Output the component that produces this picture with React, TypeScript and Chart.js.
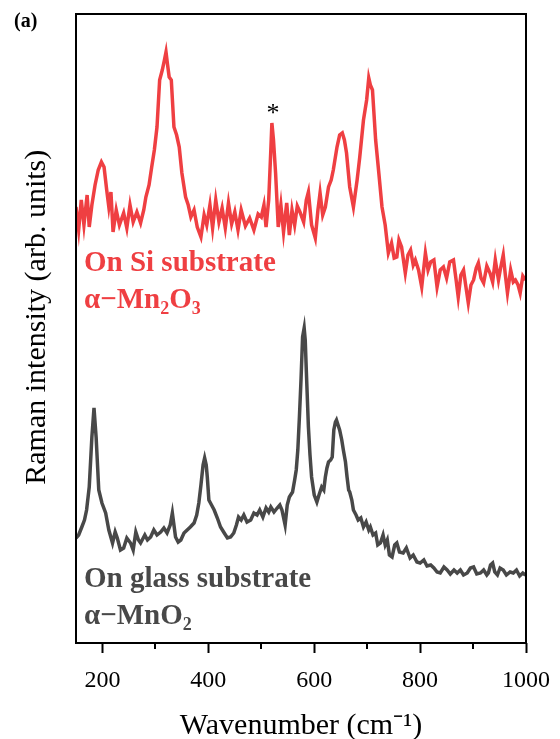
import React, { useEffect, useRef } from "react";
import { Chart, registerables } from "chart.js";

Chart.register(...registerables);

// α-Mn2O3 on Si substrate (red)
const siWavenumber = [150,155,160,165,171,175,180,186,192,198,203,208,212,216,220,226,232,240,246,252,258,265,272,278,282,288,293,298,303,308,313,317,320,323,326,330,335,340,345,350,357,362,367,373,379,386,392,397,403,408,414,420,426,432,438,444,450,456,462,470,478,486,494,500,505,509,514,518,520,523,527,532,537,542,548,553,558,563,568,573,580,585,589,595,602,607,611,616,621,627,632,636,643,648,653,657,661,667,674,681,686,693,699,703,706,710,716,722,728,734,740,746,751,756,760,765,772,777,782,787,791,797,803,810,815,820,826,832,838,844,850,856,863,868,872,877,882,886,891,896,901,906,910,915,920,926,932,937,942,948,952,957,961,965,971,976,980,985,989,994,999];
const siIntensity = [436,413,443,418,448,416,438,458,473,481,476,453,436,451,411,433,418,430,415,438,421,431,420,433,446,458,476,493,516,563,573,583,591,578,566,563,516,508,496,470,446,438,426,433,416,406,428,418,438,415,443,421,435,415,440,419,431,413,433,417,425,413,429,426,438,416,443,493,520,503,470,416,438,411,440,408,433,418,437,431,421,443,451,418,405,433,450,428,436,456,463,473,496,508,510,503,490,456,436,463,486,523,543,565,558,553,503,470,436,418,390,400,385,386,403,396,370,388,393,378,383,373,356,390,373,381,383,356,373,376,365,381,383,363,346,368,373,358,340,358,363,375,380,365,360,377,370,361,383,363,375,388,368,350,373,361,363,358,350,367,363];

// α-MnO2 on glass substrate (dark grey)
const glassWavenumber = [150,155,161,166,170,175,180,184,188,193,199,206,212,219,224,228,234,240,246,253,258,263,268,272,280,285,291,297,303,310,316,322,328,332,335,338,343,348,354,360,366,373,378,382,386,390,393,396,398,401,406,411,417,423,430,436,442,448,453,457,462,467,473,480,486,492,497,503,509,514,518,524,530,535,539,545,549,553,559,563,566,569,572,575,578,581,583,585,589,592,595,600,605,609,614,618,621,624,627,631,634,637,640,642,645,648,652,655,659,662,665,667,671,674,679,683,688,693,698,703,706,711,716,720,725,730,734,738,742,747,752,756,761,768,774,781,787,794,800,807,813,820,826,832,838,845,851,857,864,870,876,882,889,895,901,907,914,920,926,929,933,937,941,946,951,957,963,970,976,982,988,994,999];
const glassIntensity = [105,108,116,123,133,156,206,235,206,153,140,130,113,100,111,105,93,95,105,100,93,111,103,100,108,103,106,113,108,111,115,110,118,130,118,106,101,103,110,113,116,120,128,140,158,178,185,178,166,143,138,133,125,116,110,105,106,110,118,126,123,128,121,123,130,128,133,126,135,131,136,131,135,138,133,118,138,146,151,163,173,193,226,263,306,315,303,273,216,188,166,148,141,148,156,153,166,175,181,183,186,213,221,223,218,213,203,193,181,166,153,151,143,133,128,123,125,116,121,113,116,108,110,98,100,108,98,103,88,86,98,100,91,90,95,85,88,81,80,83,77,78,75,71,70,76,73,69,73,70,73,68,70,75,76,69,70,73,68,70,78,80,71,68,75,73,68,71,70,73,67,70,68];

const xTicks = [200, 400, 600, 800, 1000];
const xMinorTicks = [300, 500, 700, 900];

const RED = "#EF3F42";
const GREY = "#484848";
const SERIF = "'Liberation Serif', 'Times New Roman', serif";

export default function App() {
  const ref = useRef<HTMLCanvasElement | null>(null);

  useEffect(() => {
    if (!ref.current) return;

    const framePlugin = {
      id: "frameAndLabels",
      afterDraw(chart: any) {
        const { ctx, chartArea } = chart;
        const xs = chart.scales.x;
        const ys = chart.scales.y;
        ctx.save();
        ctx.strokeStyle = "#000";
        ctx.lineWidth = 2;
        ctx.strokeRect(chartArea.left, chartArea.top, chartArea.right - chartArea.left, chartArea.bottom - chartArea.top);
        xMinorTicks.forEach((v) => {
          const px = Math.round(xs.getPixelForValue(v));
          ctx.beginPath();
          ctx.moveTo(px, chartArea.bottom);
          ctx.lineTo(px, chartArea.bottom + 6);
          ctx.stroke();
        });

        ctx.fillStyle = "#000";
        ctx.textBaseline = "alphabetic";
        ctx.textAlign = "left";
        ctx.font = `bold 20px ${SERIF}`;
        ctx.fillText("(a)", 14, 27);

        ctx.font = `26px ${SERIF}`;
        ctx.textAlign = "center";
        ctx.fillText("*", xs.getPixelForValue(522), ys.getPixelForValue(520) - 2);

        const drawFormula = (parts: [string, boolean][], x: number, y: number, size: number) => {
          let cx = x;
          parts.forEach(([t, sub]) => {
            ctx.font = sub ? `bold ${Math.round(size * 0.62)}px ${SERIF}` : `bold ${size}px ${SERIF}`;
            ctx.fillText(t, cx, sub ? y + size * 0.22 : y);
            cx += ctx.measureText(t).width;
          });
        };

        ctx.textAlign = "left";
        const size = 29;
        ctx.fillStyle = RED;
        ctx.font = `bold ${size}px ${SERIF}`;
        ctx.fillText("On Si substrate", 84, 271);
        drawFormula([["α−Mn", false], ["2", true], ["O", false], ["3", true]], 84, 308, size);

        ctx.fillStyle = GREY;
        ctx.font = `bold ${size}px ${SERIF}`;
        ctx.fillText("On glass substrate", 84, 587);
        drawFormula([["α−MnO", false], ["2", true]], 84, 624, size);
        ctx.restore();
      },
    };

    const chart = new Chart(ref.current, {
      type: "line",
      data: {
        datasets: [
          {
            label: "On Si substrate α-Mn2O3",
            data: siWavenumber.map((x, i) => ({ x, y: siIntensity[i] })),
            borderColor: RED,
            borderWidth: 3.5,
            pointRadius: 0,
            tension: 0,
          },
          {
            label: "On glass substrate α-MnO2",
            data: glassWavenumber.map((x, i) => ({ x, y: glassIntensity[i] })),
            borderColor: GREY,
            borderWidth: 3.5,
            pointRadius: 0,
            tension: 0,
          },
        ],
      },
      options: {
        responsive: true,
        maintainAspectRatio: false,
        animation: false,
        layout: { padding: { top: 14, right: 34, left: 0, bottom: 0 } },
        plugins: { legend: { display: false }, tooltip: { enabled: false } },
        scales: {
          x: {
            type: "linear",
            min: 150,
            max: 1000,
            afterBuildTicks: (scale: any) => {
              scale.ticks = xTicks.map((v) => ({ value: v }));
            },
            afterFit: (scale: any) => {
              scale.height = 96;
              scale.paddingLeft = 0;
              scale.paddingRight = 0;
            },
            border: { display: false },
            grid: {
              display: true,
              drawOnChartArea: false,
              drawTicks: true,
              tickLength: 10,
              tickWidth: 2,
              tickColor: "#000",
            },
            ticks: {
              color: "#000",
              font: { family: SERIF, size: 24 },
              padding: 13,
              maxRotation: 0,
              callback: (v: any) => String(v),
            },
            title: {
              display: true,
              text: "Wavenumber (cm⁻¹)",
              color: "#000",
              font: { family: SERIF, size: 30, lineHeight: 1 },
              padding: { top: 0, bottom: -2 },
            },
          },
          y: {
            type: "linear",
            min: 0,
            max: 629,
            afterFit: (scale: any) => {
              scale.width = 76;
            },
            border: { display: false },
            grid: { display: false },
            ticks: { display: false },
            title: {
              display: true,
              text: "   Raman intensity (arb. units)",
              color: "#000",
              font: { family: SERIF, size: 30, lineHeight: 1.2 },
              padding: { top: 19, bottom: 0 },
            },
          },
        },
      },
      plugins: [framePlugin],
    });
    return () => chart.destroy();
  }, []);

  return (
    <div style={{ position: "fixed", left: 0, top: 0, width: 560, height: 739, background: "#fff" }}>
      <canvas ref={ref} />
    </div>
  );
}
